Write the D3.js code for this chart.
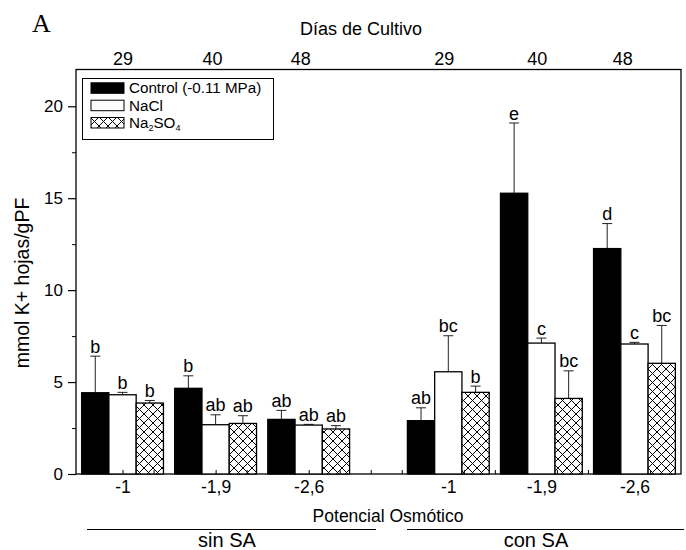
<!DOCTYPE html>
<html>
<head>
<meta charset="utf-8">
<script src="https://cdn.jsdelivr.net/npm/d3@7"></script>
<style>
  html, body { margin: 0; padding: 0; background: #fff; }
  svg text { font-family: "Liberation Sans", Arial, sans-serif; fill: #000; }
</style>
</head>
<body>
<svg id="chart" width="686" height="550"></svg>
<script>
// Osmotic potential groups (x axis) and culture days (top axis)
const groups = ["-1", "-1,9", "-2,6", "-1", "-1,9", "-2,6"];
const groupPos = [1, 2, 3, 4.5, 5.5, 6.5];
const days = ["29", "40", "48", "29", "40", "48"];
const dayPos = [1, 1.96, 2.91, 4.45, 5.45, 6.37];
const yTicks = [0, 5, 10, 15, 20];
const yMinorTicks = [2.5, 7.5, 12.5, 17.5];

// Treatments: mean K+ content and standard error
const seriesNames = ["Control (-0.11 MPa)", "NaCl", "Na2SO4"];
const control    = [4.42, 4.66, 2.97, 2.90, 15.27, 12.26];
const controlErr = [1.99, 0.68, 0.49, 0.70, 3.82, 1.36];
const nacl       = [4.31, 2.68, 2.66, 5.56, 7.12, 7.07];
const naclErr    = [0.13, 0.54, 0.04, 1.96, 0.27, 0.09];
const na2so4     = [3.86, 2.75, 2.45, 4.44, 4.11, 6.02];
const na2so4Err  = [0.14, 0.42, 0.18, 0.34, 1.50, 2.06];

// Significance letters
const controlLetters = ["b", "b", "ab", "ab", "e", "d"];
const naclLetters    = ["b", "ab", "ab", "bc", "c", "c"];
const na2so4Letters  = ["b", "ab", "ab", "b", "bc", "bc"];

const svg = d3.select("#chart");
const plotL = 76, plotR = 681, plotT = 69.5, plotB = 474;
const FONT = "Liberation Sans, Arial, sans-serif";

const x = d3.scaleLinear().domain([0.5, 7]).range([plotL, plotR]);
const y = d3.scaleLinear().domain([0, 22]).range([plotB, plotT]);
const barW = 0.293; // bar width in axis units

// Crosshatch pattern
const defs = svg.append("defs");
const pat = defs.append("pattern")
  .attr("id", "hatch").attr("patternUnits", "userSpaceOnUse")
  .attr("width", 9).attr("height", 9);
pat.append("rect").attr("width", 9).attr("height", 9).attr("fill", "#fff");
pat.append("path").attr("d", "M0,0L9,9M0,9L9,0M-1,1L1,-1M8,10L10,8M-1,8L1,10M8,-1L10,1")
  .attr("stroke", "#000").attr("stroke-width", 1);

const fills = ["#000", "#fff", "url(#hatch)"];
const values = [control, nacl, na2so4];
const errs = [controlErr, naclErr, na2so4Err];
const letters = [controlLetters, naclLetters, na2so4Letters];

// Frame
svg.append("rect")
  .attr("x", plotL).attr("y", plotT)
  .attr("width", plotR - plotL).attr("height", plotB - plotT)
  .attr("fill", "none").attr("stroke", "#000").attr("stroke-width", 1.3);

// Bars, error bars and letters
values.forEach((vals, s) => {
  const off = (s - 1) * barW;
  const g = svg.append("g");
  vals.forEach((v, i) => {
    const cx = groupPos[i] + off;
    const x0 = x(cx - barW / 2), x1 = x(cx + barW / 2);
    const xc = x(cx);
    const e = v + errs[s][i];
    g.append("line")
      .attr("x1", xc).attr("x2", xc)
      .attr("y1", y(v)).attr("y2", y(e))
      .attr("stroke", "#222").attr("stroke-width", 1);
    g.append("line")
      .attr("x1", xc - 5).attr("x2", xc + 5)
      .attr("y1", y(e)).attr("y2", y(e))
      .attr("stroke", "#222").attr("stroke-width", 1);
    g.append("rect")
      .attr("x", x0).attr("y", y(v))
      .attr("width", x1 - x0).attr("height", y(0) - y(v))
      .attr("fill", fills[s]).attr("stroke", "#000").attr("stroke-width", 1.3);
    g.append("text")
      .attr("x", xc).attr("y", y(e) - 3.5)
      .attr("text-anchor", "middle")
      .attr("font-size", 18)
      .text(letters[s][i]);
  });
});

// Left axis
const yAxis = svg.append("g").attr("transform", `translate(${plotL},0)`)
  .call(d3.axisLeft(y).tickValues(yTicks).tickSize(8).tickPadding(5));
yAxis.select(".domain").remove();
yAxis.selectAll("text").attr("font-size", 17).attr("font-family", FONT);
yAxis.selectAll("line").attr("stroke-width", 1.2);
const yMinor = svg.append("g").attr("transform", `translate(${plotL},0)`)
  .call(d3.axisLeft(y).tickValues(yMinorTicks).tickSize(4).tickFormat(""));
yMinor.select(".domain").remove();

// Bottom axis: labels and small inward ticks
const xAxis = svg.append("g").attr("transform", `translate(0,${plotB})`)
  .call(d3.axisBottom(x).tickValues(groupPos).tickSize(0).tickPadding(7)
    .tickFormat((d, i) => groups[i]));
xAxis.select(".domain").remove();
xAxis.selectAll("text").attr("font-size", 17.5).attr("font-family", FONT);
const xMinor = svg.append("g").attr("transform", `translate(0,${plotB})`)
  .call(d3.axisBottom(x).tickValues(d3.range(2, 21).map(k => k / 3)).tickSize(-4).tickFormat(""));
xMinor.select(".domain").remove();

// Top axis: culture days
const tAxis = svg.append("g").attr("transform", `translate(0,${plotT})`)
  .call(d3.axisTop(x).tickValues(dayPos).tickSize(0).tickPadding(4.5)
    .tickFormat((d, i) => days[i]));
tAxis.select(".domain").remove();
tAxis.selectAll("text").attr("font-size", 18).attr("font-family", FONT);

// Titles
svg.append("text").attr("x", 32).attr("y", 32)
  .style("font-family", "'Liberation Serif', 'Times New Roman', serif")
  .attr("font-size", 26).text("A");
svg.append("text").attr("x", 361).attr("y", 35)
  .attr("text-anchor", "middle").attr("font-size", 18).text("Días de Cultivo");
svg.append("text")
  .attr("transform", `translate(29,283) rotate(-90)`)
  .attr("text-anchor", "middle").attr("font-size", 19.5).text("mmol K+ hojas/gPF");
svg.append("text").attr("x", 388).attr("y", 521.5)
  .attr("text-anchor", "middle").attr("font-size", 17.5).text("Potencial Osmótico");

// Group brackets
svg.append("line").attr("x1", 87).attr("x2", 376).attr("y1", 529.5).attr("y2", 529.5)
  .attr("stroke", "#000").attr("stroke-width", 1);
svg.append("line").attr("x1", 407).attr("x2", 684).attr("y1", 529.5).attr("y2", 529.5)
  .attr("stroke", "#000").attr("stroke-width", 1);
svg.append("text").attr("x", 227).attr("y", 547)
  .attr("text-anchor", "middle").attr("font-size", 20).text("sin SA");
svg.append("text").attr("x", 536).attr("y", 547)
  .attr("text-anchor", "middle").attr("font-size", 20).text("con SA");

// Legend
const lg = svg.append("g");
lg.append("rect").attr("x", 82.5).attr("y", 78.5).attr("width", 191).attr("height", 61)
  .attr("fill", "#fff").attr("stroke", "#000").attr("stroke-width", 1);
const rowBase = [93.3, 110.7, 128];
seriesNames.forEach((name, i) => {
  lg.append("rect").attr("x", 91).attr("y", rowBase[i] - 10.5).attr("width", 33).attr("height", 10.5)
    .attr("fill", fills[i]).attr("stroke", "#000").attr("stroke-width", 1);
  const t = lg.append("text").attr("x", 129).attr("y", rowBase[i]).attr("font-size", 15.2);
  if (name === "Na2SO4") {
    t.append("tspan").text("Na");
    t.append("tspan").attr("font-size", 9).attr("dy", 3).text("2");
    t.append("tspan").attr("dy", -3).text("SO");
    t.append("tspan").attr("font-size", 9).attr("dy", 3).text("4");
  } else {
    t.text(name);
  }
});
</script>
</body>
</html>
